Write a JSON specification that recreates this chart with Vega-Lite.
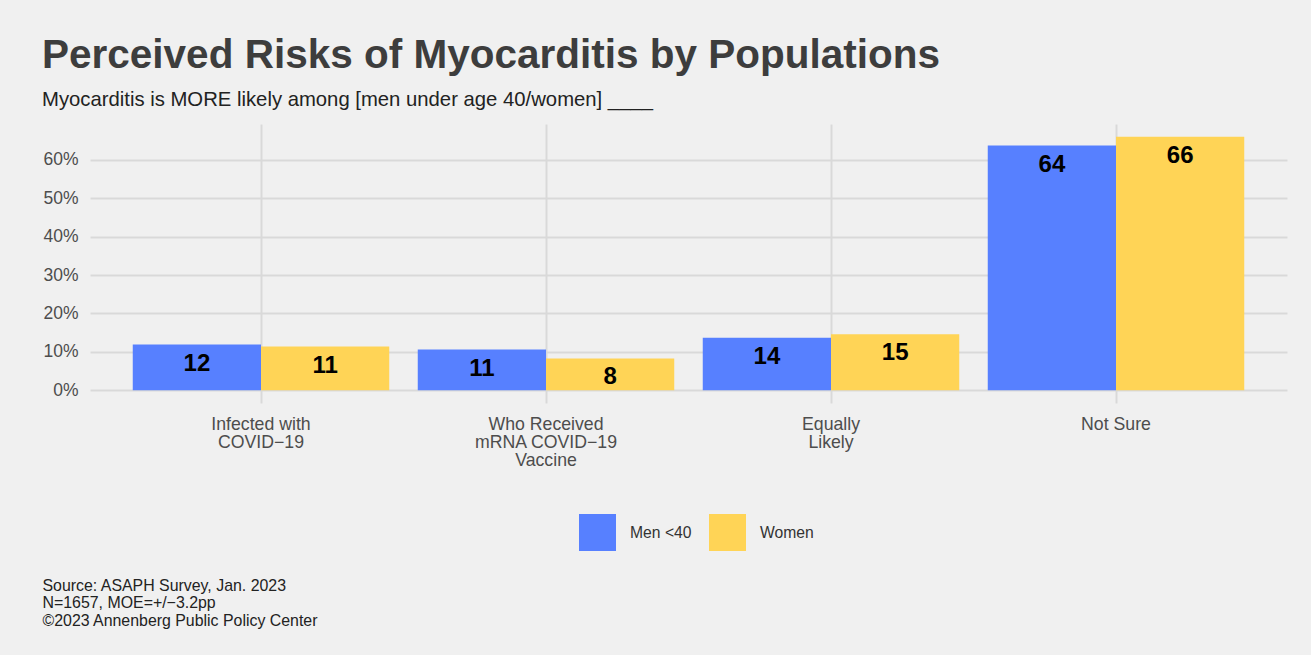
{
  "$schema": "https://vega.github.io/schema/vega-lite/v6.json",
  "width": 1197,
  "height": 279,
  "autosize": {"type": "none"},
  "padding": {"left": 90, "top": 124, "right": 24, "bottom": 252},
  "background": "#f0f0f0",
  "title": {
    "text": "Perceived Risks of Myocarditis by Populations",
    "subtitle": "Myocarditis is MORE likely among [men under age 40/women] ____",
    "anchor": "start",
    "frame": "bounds",
    "font": "Liberation Sans",
    "fontSize": 40.5,
    "fontWeight": "bold",
    "color": "#3d3d3d",
    "subtitleFont": "Liberation Sans",
    "subtitleFontSize": 20.3,
    "subtitleColor": "#222222",
    "subtitlePadding": 13.5,
    "offset": 14
  },
  "data": {
    "values": [
      {"category": "Infected with|COVID−19", "group": "Men <40", "pct": 11.9, "label": "12"},
      {"category": "Infected with|COVID−19", "group": "Women", "pct": 11.4, "label": "11"},
      {"category": "Who Received|mRNA COVID−19|Vaccine", "group": "Men <40", "pct": 10.6, "label": "11"},
      {"category": "Who Received|mRNA COVID−19|Vaccine", "group": "Women", "pct": 8.3, "label": "8"},
      {"category": "Equally|Likely", "group": "Men <40", "pct": 13.7, "label": "14"},
      {"category": "Equally|Likely", "group": "Women", "pct": 14.6, "label": "15"},
      {"category": "Not Sure", "group": "Men <40", "pct": 63.7, "label": "64"},
      {"category": "Not Sure", "group": "Women", "pct": 66.0, "label": "66"}
    ]
  },
  "encoding": {
    "x": {
      "field": "category",
      "type": "nominal",
      "sort": null,
      "scale": {"paddingInner": 0.1, "paddingOuter": 0.15},
      "axis": {
        "bandPosition": 0.5,
        "labelExpr": "split(datum.label, '|')",
        "labelAngle": 0,
        "labelFont": "Liberation Sans",
        "labelFontSize": 17.7,
        "labelColor": "#4d4d4d",
        "labelLineHeight": 18,
        "labelPadding": 12,
        "labelBaseline": "top",
        "ticks": false,
        "tickSize": 0,
        "domain": false,
        "grid": true,
        "gridColor": "#d9d9d9",
        "gridWidth": 2,
        "title": ["Source: ASAPH Survey, Jan. 2023", "N=1657, MOE=+/−3.2pp", "©2023 Annenberg Public Policy Center"],
        "titleFont": "Liberation Sans",
        "titleFontSize": 15.9,
        "titleFontWeight": "normal",
        "titleColor": "#222222",
        "titleLineHeight": 17.5,
        "titleAnchor": "start",
        "titleAlign": "left",
        "titleBaseline": "alphabetic",
        "titleX": -48,
        "titleY": 187
      }
    },
    "xOffset": {
      "field": "group",
      "type": "nominal",
      "scale": {"paddingInner": 0, "paddingOuter": 0}
    },
    "y": {
      "field": "pct",
      "type": "quantitative",
      "scale": {"domain": [-3.3, 69.3], "nice": false, "zero": false},
      "axis": {
        "values": [0, 10, 20, 30, 40, 50, 60],
        "labelExpr": "datum.value + '%'",
        "labelFont": "Liberation Sans",
        "labelFontSize": 17.5,
        "labelColor": "#4d4d4d",
        "labelPadding": 12,
        "ticks": false,
        "tickSize": 0,
        "domain": false,
        "grid": true,
        "gridColor": "#d9d9d9",
        "gridWidth": 2,
        "title": null
      }
    }
  },
  "layer": [
    {
      "mark": {"type": "bar", "strokeWidth": 0},
      "encoding": {
        "color": {
          "field": "group",
          "type": "nominal",
          "scale": {"domain": ["Men <40", "Women"], "range": ["#5780FF", "#FFD456"]},
          "legend": {
            "title": null,
            "orient": "none",
            "direction": "horizontal",
            "legendX": 489,
            "legendY": 390,
            "symbolType": "square",
            "symbolSize": 1369,
            "symbolStrokeWidth": 0,
            "symbolOpacity": 1,
            "labelFont": "Liberation Sans",
            "labelFontSize": 15.7,
            "labelColor": "#333333",
            "labelOffset": 14,
            "columnPadding": 17
          }
        }
      }
    },
    {
      "mark": {
        "type": "text",
        "baseline": "middle",
        "dy": 19,
        "font": "Liberation Sans",
        "fontSize": 24,
        "fontWeight": "bold",
        "color": "#000000"
      },
      "encoding": {
        "text": {"field": "label"}
      }
    }
  ],
  "config": {
    "view": {"stroke": null}
  }
}
